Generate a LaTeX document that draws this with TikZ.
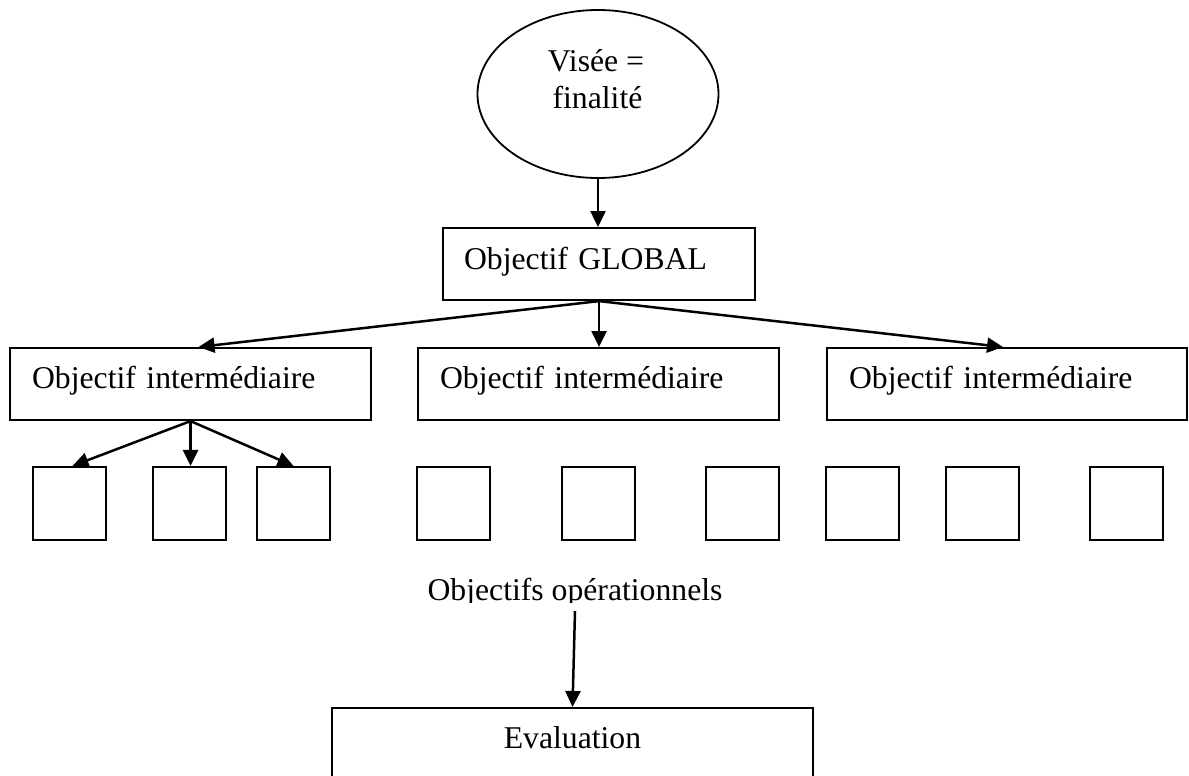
\documentclass[tikz,border=0pt]{standalone}
\usepackage{fontspec}
\setmainfont{Liberation Serif}
\usetikzlibrary{shapes.geometric,arrows.meta}
\begin{document}
\begin{tikzpicture}[x=1pt,y=-1pt,
  every node/.style={font=\fontsize{31.7}{36}\selectfont},
  boxnode/.style={draw, line width=2.1pt, rectangle, inner sep=0pt},
  objbox/.style={boxnode, anchor=north west, inner xsep=22pt, inner ysep=0pt,
                 text width=#1, align=left, text height=40pt, text depth=32pt},
  sq/.style={draw, line width=2.1pt, minimum size=73pt, inner sep=0pt},
  arr/.style={line width=2.5pt, -{Triangle[length=16pt,width=15pt]}},
  txt/.style={inner sep=0pt, anchor=base}
]
\clip (0,0) rectangle (1189,776);
\fill[white] (0,0) rectangle (1189,776);

% top ellipse
\node[draw, ellipse, line width=1.8pt, minimum width=241pt, minimum height=168pt, inner sep=0pt] (vis) at (598,94) {};
\node[txt] (vis1) at (596,72) {Visée =};
\node[txt] (vis2) at (597.5,108) {finalité};

% global objective
\node[boxnode, anchor=north west, inner xsep=21pt, inner ysep=0pt, text width=270pt, align=left,
      text height=41pt, text depth=31pt] (glob) at (442,227) {Objectif GLOBAL};

% intermediate objectives
\node[objbox=317pt] (ob1) at (9,347) {Objectif intermédiaire};
\node[objbox=317pt] (ob2) at (417,347) {Objectif intermédiaire};
\node[objbox=316pt] (ob3) at (826,347) {Objectif intermédiaire};

% operational objective squares
\foreach \xx/\nm in {69.5/s1, 189.5/s2, 293.5/s3, 453.5/s4, 598.5/s5, 742.5/s6, 862.5/s7, 982.5/s8, 1126.5/s9}
  \node[sq] (\nm) at (\xx,503.5) {};

% label (descenders cut as in the original)
\begin{scope}
\clip (380,560) rectangle (780,602.5);
\node[txt] (op) at (575,600) {Objectifs opérationnels};
\end{scope}

% evaluation box (runs past the bottom edge)
\node[boxnode, anchor=north, minimum width=481pt, inner ysep=0pt, text height=40pt, text depth=80pt] (ev) at (572.5,707) {Evaluation};

% connectors
\draw[arr] (vis.south) -- (vis.south |- glob.north);
\draw[arr] (glob.south) -- ([xshift=8pt]ob1.north);
\draw[arr] (glob.south) -- (glob.south |- ob2.north);
\draw[arr] (glob.south) -- ([xshift=-4pt]ob3.north);
\draw[arr] (ob1.south) -- ([xshift=3pt]s1.north);
\draw[arr] (ob1.south) -- (ob1.south |- s2.north);
\draw[arr] (ob1.south) -- (s3.north);
\draw[arr] ([yshift=-11pt]op.base) -- (ev.north);
\end{tikzpicture}
\end{document}
